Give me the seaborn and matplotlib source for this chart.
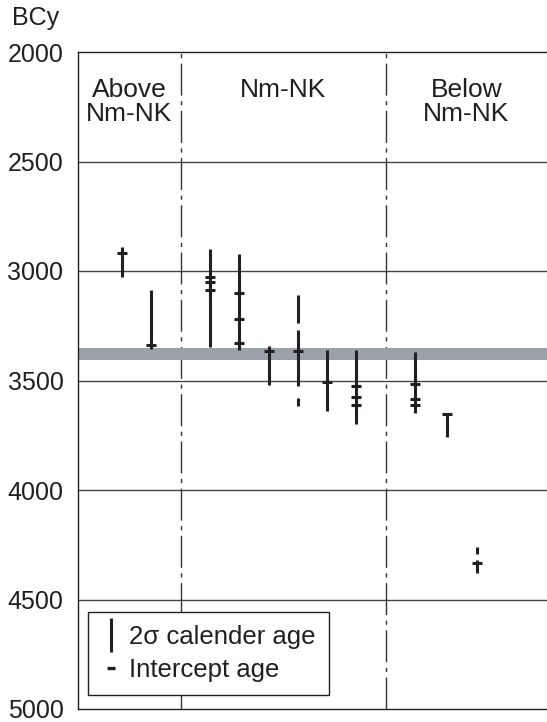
import matplotlib
matplotlib.use("Agg")
import matplotlib.pyplot as plt
from matplotlib.lines import Line2D
import seaborn as sns
import pandas as pd

# sample positions along the section and their ages (BC years)
sample_x = [1.5, 2.5, 4.5, 5.5, 6.5, 7.5, 8.5, 9.5, 11.5, 12.6, 13.6]

# 2 sigma calendar ranges: sample index, start, end
range_idx = [0, 1, 2, 3, 4, 5, 5, 5, 6, 7, 8, 9, 10, 10]
range_lo = [2889, 3088, 2899, 2921, 3341, 3108, 3271, 3578, 3359, 3359, 3369, 3651, 4259, 4320]
range_hi = [3026, 3354, 3345, 3363, 3519, 3237, 3526, 3617, 3640, 3698, 3648, 3759, 4290, 4377]

# intercept ages
icpt_idx = [0, 1, 2, 2, 2, 3, 3, 3, 4, 5, 6, 7, 7, 7, 8, 8, 8, 9, 10]
icpt_age = [2917, 3336, 3028, 3052, 3085, 3100, 3218, 3330, 3367, 3367, 3508,
            3526, 3576, 3610, 3518, 3584, 3610, 3651, 4335]

zones = ["Above\nNm-NK", "Nm-NK", "Below\nNm-NK"]
zone_center = [1.75, 7.0, 13.25]
zone_bounds = [3.5, 10.5]
band = (3351, 3408)
yticks = [2000, 2500, 3000, 3500, 4000, 4500, 5000]

sns.set_theme(style="white")
plt.rcParams['font.family'] = ['Liberation Sans', 'DejaVu Sans']

ink = "#231f20"
fig = plt.figure(figsize=(5.47, 7.22), dpi=100)
ax = fig.add_axes([78 / 547, 1 - 709 / 722, 469 / 547, 657 / 722])

ax.axhspan(band[0], band[1], color="#9ba1a9", lw=0, zorder=1)
for t in yticks[1:-1]:
    ax.axhline(t, color="#444444", lw=1.0, zorder=0.5)
for b in zone_bounds:
    ax.axvline(b, color="#333333", lw=1.0, linestyle=(0, (23, 4, 3, 4)), zorder=0.6)

ranges = pd.DataFrame({"x": [sample_x[i] for i in range_idx], "lo": range_lo, "hi": range_hi})
ax.vlines(ranges["x"], ranges["lo"], ranges["hi"], color=ink, lw=2.2, zorder=3)

icpt = pd.DataFrame({"x": [sample_x[i] for i in icpt_idx], "age": icpt_age})
sns.scatterplot(data=icpt, x="x", y="age", marker="_", s=60, linewidth=2.2,
                color=ink, ax=ax, zorder=4)

for name, cx in zip(zones, zone_center):
    ax.text(cx, 2120, name, ha="center", va="top", fontsize=19, linespacing=1.0, color=ink)

ax.set_xlim(0, 16)
ax.set_ylim(5000, 2000)
ax.set_yticks(yticks)
ax.set_xticks([])
ax.set_xlabel("")
ax.set_ylabel("")
ax.tick_params(axis="y", length=0, pad=10.5, labelsize=18, labelcolor=ink)
for side in ["left", "top", "bottom"]:
    ax.spines[side].set_color(ink)
    ax.spines[side].set_linewidth(1.0)
ax.spines["right"].set_visible(False)

fig.text(12 / 547, 1 - 25 / 722, "BCy", fontsize=18, color=ink, va="baseline", ha="left")

handles = [Line2D([], [], color=ink, marker="|", markersize=24, markeredgewidth=2.2, linestyle="none"),
           Line2D([], [], color=ink, marker="_", markersize=6, markeredgewidth=2.4, linestyle="none")]
leg = ax.legend(handles, ["2\u03c3 calender age", "Intercept age"], loc="lower left",
                bbox_to_anchor=(0.021, 0.021), borderaxespad=0, fontsize=18.5, frameon=True,
                fancybox=False, handlelength=0.8, handletextpad=0.32, labelspacing=0.38,
                borderpad=0.5, labelcolor=ink)
leg.get_frame().set_edgecolor(ink)
leg.get_frame().set_linewidth(1.0)
leg.get_frame().set_facecolor("white")
leg.get_frame().set_alpha(1)

plt.savefig("out.png", dpi=100)
